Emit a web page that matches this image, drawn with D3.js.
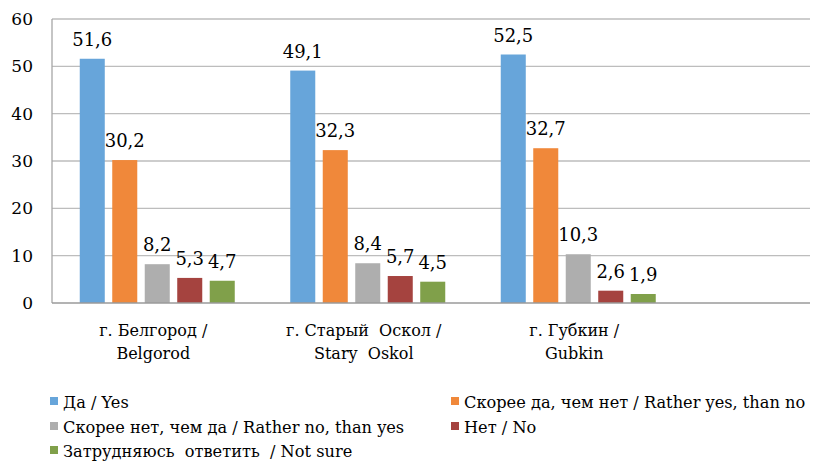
<!DOCTYPE html>
<html>
<head>
<meta charset="utf-8">
<script src="https://cdn.jsdelivr.net/npm/d3@7"></script>
<style>
  body { margin: 0; background: #fff; }
</style>
</head>
<body>
<div id="chart"></div>
<script>
var cities = ["Belgorod", "Stary Oskol", "Gubkin"],
    cityLabels = [["г. Белгород /", "Belgorod"], ["г. Старый  Оскол /", "Stary  Oskol"], ["г. Губкин /", "Gubkin"]],
    series = ["Да / Yes", "Скорее да, чем нет / Rather yes, than no", "Скорее нет, чем да / Rather no, than yes", "Нет / No", "Затрудняюсь  ответить  / Not sure"],
    colors = ["#67A5DA", "#F0883A", "#AEAEAE", "#A5433F", "#80A04A"],
    yes = [51.6, 49.1, 52.5],
    ratherYes = [30.2, 32.3, 32.7],
    ratherNo = [8.2, 8.4, 10.3],
    no = [5.3, 5.7, 2.6],
    notSure = [4.7, 4.5, 1.9],
    yTicks = [0, 10, 20, 30, 40, 50, 60];

var values = [yes, ratherYes, ratherNo, no, notSure];

var width = 817, height = 462,
    plot = { left: 52, right: 810, top: 19, bottom: 303 }, //plot area
    font = "DejaVu Serif"; // Liberation Serif doesn't load here

var svg = d3.select("#chart").append("svg")
    .attr("width", width)
    .attr("height", height)
    .style("font-family", font);

var y = d3.scaleLinear().domain([0, 60]).range([plot.bottom, plot.top]);

// each city gets a band of the same width, the rest of the area stays empty
var x0 = d3.scaleBand().domain(cities).range([plot.left, plot.left + 631.5]);
var x1 = d3.scaleBand().domain(d3.range(series.length)).range([27.75, 182.75]).paddingInner(0.23);

// grid lines
svg.append("g").selectAll("line")
    .data(yTicks.filter(function(d) { return d > 0; }))
    .enter().append("line")
      .attr("x1", plot.left).attr("x2", plot.right)
      .attr("y1", function(d) { return y(d); })
      .attr("y2", function(d) { return y(d); })
      .attr("stroke", "#BDBDBD")
      .attr("stroke-width", 1.3);

// y labels
svg.append("g").selectAll("text")
    .data(yTicks)
    .enter().append("text")
      .attr("x", 33)
      .attr("y", function(d) { return y(d) + 6; })
      .attr("text-anchor", "end")
      .style("font-size", "17px")
      .text(function(d) { return d; });

// bars
var groups = svg.selectAll(".city")
    .data(cities)
    .enter().append("g")
      .attr("class", "city")
      .attr("transform", function(d) { return "translate(" + x0(d) + ",0)"; });

groups.selectAll("rect")
    .data(function(d, ci) { return values.map(function(s, si) { return { s: si, v: s[ci] }; }); })
    .enter().append("rect")
      .attr("x", function(d) { return x1(d.s); })
      .attr("width", x1.bandwidth())
      .attr("y", function(d) { return y(d.v); })
      .attr("height", function(d) { return plot.bottom - y(d.v); })
      .attr("fill", function(d) { return colors[d.s]; });

groups.selectAll(".val")
    .data(function(d, ci) { return values.map(function(s, si) { return { s: si, v: s[ci] }; }); })
    .enter().append("text")
      .attr("class", "val")
      .attr("x", function(d) { return x1(d.s) + x1.bandwidth() / 2; })
      .attr("y", function(d) { return y(d.v) - 13; })
      .attr("text-anchor", "middle")
      .style("font-size", "18px")
      .text(function(d) { return String(d.v.toFixed(1)).replace(".", ","); });

// axes lines
svg.append("line")
    .attr("x1", plot.left).attr("x2", plot.left)
    .attr("y1", plot.top).attr("y2", plot.bottom)
    .attr("stroke", "#A6A6A6").attr("stroke-width", 1.3);
svg.append("line")
    .attr("x1", plot.left).attr("x2", plot.right)
    .attr("y1", plot.bottom).attr("y2", plot.bottom)
    .attr("stroke", "#9A9A9A").attr("stroke-width", 1.6);

// category labels
var cat = svg.append("g").selectAll("text")
    .data(cities)
    .enter().append("text")
      .attr("text-anchor", "middle")
      .style("font-size", "16px")
      .style("white-space", "pre")
      .attr("x", function(d) { return x0(d) + x0.bandwidth() / 2 - 4; })
      .attr("y", 336);
cat.selectAll("tspan")
    .data(function(d, i) { return cityLabels[i]; })
    .enter().append("tspan")
      .attr("x", function() { return d3.select(this.parentNode).attr("x"); })
      .attr("dy", function(d, i) { return i ? 23 : 0; })
      .text(function(d) { return d; });

// legend
var legendPos = [[50, 408], [451, 408], [50, 433], [451, 433], [50, 457]];
var legend = svg.append("g").selectAll("g")
    .data(series)
    .enter().append("g")
      .attr("transform", function(d, i) { return "translate(" + legendPos[i][0] + "," + legendPos[i][1] + ")"; });
legend.append("rect")
    .attr("x", 0).attr("y", -11)
    .attr("width", 8).attr("height", 8)
    .attr("fill", function(d, i) { return colors[i]; });
legend.append("text")
    .attr("x", 13)
    .style("font-size", "16.2px")
    .style("white-space", "pre")
    .text(function(d) { return d; });
</script>
</body>
</html>
